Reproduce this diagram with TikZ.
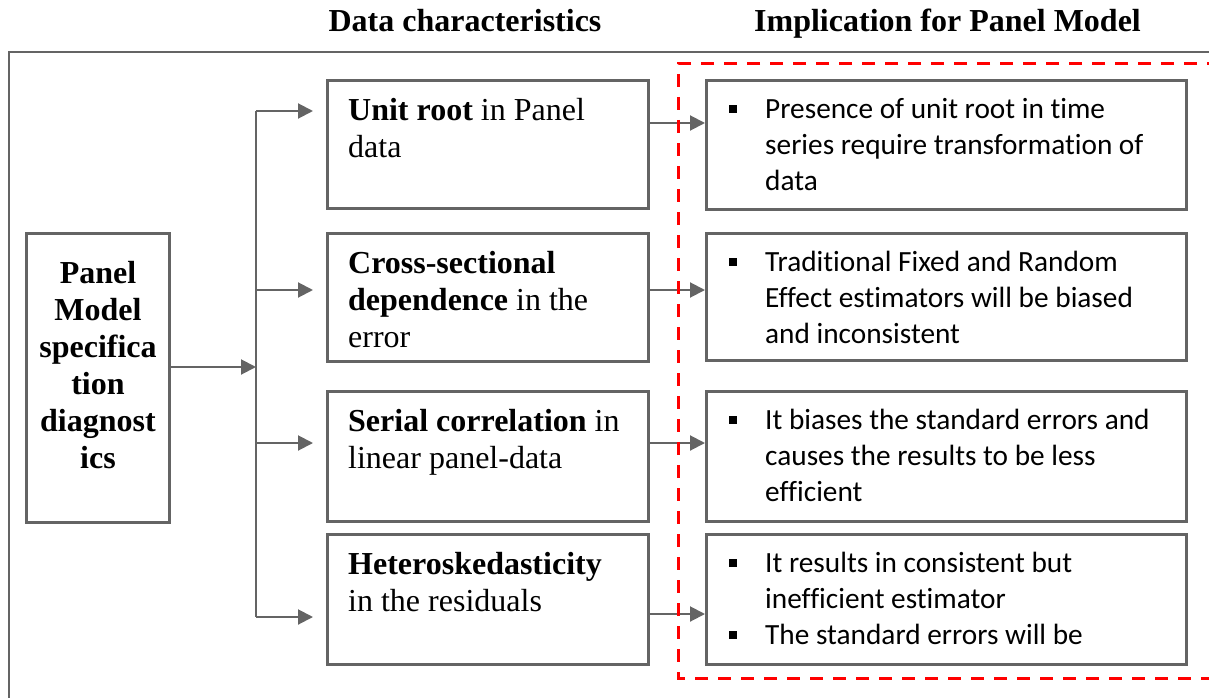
\documentclass[tikz,border=0pt]{standalone}
\usepackage{fontspec}
\setmainfont{Liberation Serif}
\newfontfamily\calfont[Ligatures=NoCommon]{Carlito}
\usetikzlibrary{arrows.meta,calc}
\definecolor{linegray}{RGB}{100,100,100}
\definecolor{dashred}{RGB}{255,0,0}
% square bullet hanging to the left of the line it starts
\newcommand\sqbullet{\makebox[0pt][r]{\rule[5.5pt]{8pt}{8pt}\hspace{28pt}}}
\tikzset{
  boxstyle/.style={draw=linegray, line width=3pt, inner sep=0pt, anchor=north west},
  midbox/.style={boxstyle, minimum width=321pt, minimum height=#1},
  implbox/.style={boxstyle, minimum width=480pt, minimum height=#1},
  midtext/.style={anchor=north west, inner sep=0pt, align=left,
    font=\fontsize{32}{36.7}\selectfont},
  impltext/.style={anchor=north west, inner sep=0pt, align=left,
    font=\calfont\fontsize{29.3}{36.3}\selectfont},
  headtext/.style={anchor=base, inner sep=0pt, font=\bfseries\fontsize{32}{36}\selectfont},
  conn/.style={draw=linegray, line width=2pt},
  arr/.style={conn, -{Triangle[length=15pt,width=15pt]}},
}
\begin{document}
\begin{tikzpicture}[x=1pt,y=-1pt]
\useasboundingbox (0,0) rectangle (1209,698);

% column headings
\node[headtext] (H1) at (465,31.7) {Data characteristics};
\node[headtext] (H2) at (947.5,31.7) {Implication for Panel Model};

% outer frame (runs off the right and bottom edges)
\draw[linegray, line width=2.8pt] (9,710) -- (9,52) -- (1220,52);

% left box
\node[boxstyle, minimum width=143pt, minimum height=289pt] (L) at (25,232) {};
\node[anchor=north, inner sep=0pt, align=center,
  font=\bfseries\fontsize{32}{37}\selectfont] (Lt) at ($(L.north)+(0,25)$)
  {\strut Panel\\ Model\\ specifica\\ tion\\ diagnost\\ ics};

% data characteristics
\node[midbox=128pt] (M1) at (326,79) {};
\node[midbox=128pt] (M2) at (326,232) {};
\node[midbox=130pt] (M3) at (326,390) {};
\node[midbox=130pt] (M4) at (326,533) {};
\node[midtext] (M1t) at ($(M1.north west)+(22,15.8)$) {\strut\textbf{Unit root} in Panel\\ data};
\node[midtext] (M2t) at ($(M2.north west)+(22,15.8)$) {\strut\textbf{Cross-sectional}\\ \textbf{dependence} in the\\ error};
\node[midtext] (M3t) at ($(M3.north west)+(22,15.8)$) {\strut\textbf{Serial correlation} in\\ linear panel-data};
\node[midtext] (M4t) at ($(M4.north west)+(22,15.8)$) {\strut\textbf{Heteroskedasticity}\\ in the residuals};

% implications
\node[implbox=129pt] (R1) at (705,79) {};
\node[implbox=127pt] (R2) at (705,232) {};
\node[implbox=130pt] (R3) at (705,390) {};
\node[implbox=130pt] (R4) at (705,533) {};
\node[impltext] (R1t) at ($(R1.north west)+(60,13.5)$)
  {\sqbullet\strut Presence of unit root in time\\ series require transformation of\\ data};
\node[impltext] (R2t) at ($(R2.north west)+(60,13.5)$)
  {\sqbullet\strut Traditional Fixed and Random\\ Effect estimators will be biased\\ and inconsistent};
\node[impltext] (R3t) at ($(R3.north west)+(60,13.5)$)
  {\sqbullet\strut It biases the standard errors and\\ causes the results to be less\\ efficient};
\node[impltext] (R4t) at ($(R4.north west)+(60,13.5)$)
  {\sqbullet\strut It results in consistent but\\ inefficient estimator\\ \sqbullet The standard errors will be};

% trunk and branches
\coordinate (T1) at (256,111);
\coordinate (T2) at (256,290);
\coordinate (T3) at (256,443);
\coordinate (T4) at (256,617);
\coordinate (J) at (256,367);
\draw[conn] (T1) -- (T4);
\draw[arr] (L.east |- J) -- (J);
\draw[arr] (T1) -- ($(M1.west |- T1)+(-13,0)$);
\draw[arr] (T2) -- ($(M2.west |- T2)+(-13,0)$);
\draw[arr] (T3) -- ($(M3.west |- T3)+(-13,0)$);
\draw[arr] (T4) -- ($(M4.west |- T4)+(-13,0)$);

% links to the implications
\coordinate (A1) at (0,123);
\coordinate (A2) at (0,290);
\coordinate (A3) at (0,443);
\coordinate (A4) at (0,614);
\draw[arr] (M1.east |- A1) -- (R1.west |- A1);
\draw[arr] (M2.east |- A2) -- (R2.west |- A2);
\draw[arr] (M3.east |- A3) -- (R3.west |- A3);
\draw[arr] (M4.east |- A4) -- (R4.west |- A4);

% dashed frame round the implications (open to the right)
\draw[dashred, line width=3pt, dash pattern=on 13pt off 10pt]
  (1220,64) -- (678,64) -- (678,678) -- (1220,678);
\end{tikzpicture}
\end{document}
